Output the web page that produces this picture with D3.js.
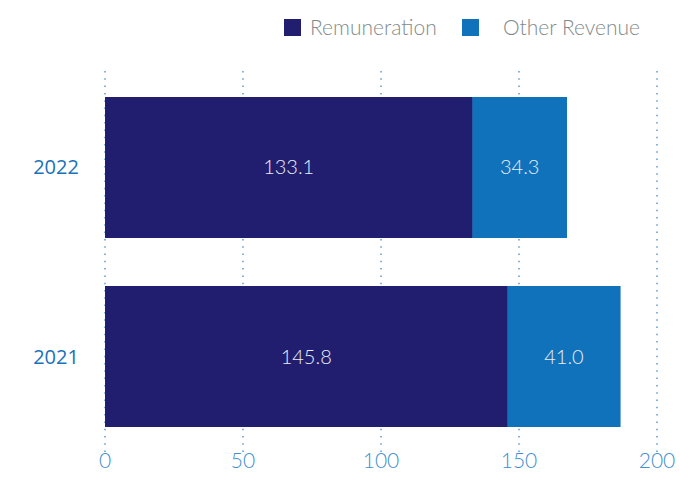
<!DOCTYPE html>
<html><head><meta charset="utf-8">
<script src="https://cdn.jsdelivr.net/npm/d3@7"></script>
<style>body{margin:0;background:#fff}svg{display:block}</style>
</head><body><svg id="c" width="680" height="494"></svg>
<script>
const years = ["2022", "2021"];
const remuneration = [133.1, 145.8];
const otherRevenue = [34.3, 41.0];
const seriesNames = ["Remuneration", "Other Revenue"];
const xTicks = [0, 50, 100, 150, 200];

const colors = ["#221e6f", "#1072bb"];
const svg = d3.select("#c");
const x = d3.scaleLinear().domain([0, 200]).range([105, 657]);
const y = d3.scaleBand().domain(years).range([97, 427]).paddingInner(0.254).paddingOuter(0);

// gridlines
svg.append("g").selectAll("line").data(xTicks).join("line")
  .attr("x1", d => x(d)).attr("x2", d => x(d))
  .attr("y1", 71).attr("y2", 456)
  .attr("stroke", "#3f8ccc").attr("stroke-width", 1.3)
  .attr("stroke-dasharray", "1.5,5.8");

const rows = years.map((yr, i) => ({yr, vals: [remuneration[i], otherRevenue[i]]}));
const stack = [];
rows.forEach(r => { let s = 0; r.vals.forEach((v, k) => { stack.push({yr: r.yr, k, x0: s, x1: s + v, v}); s += v; }); });

svg.append("g").selectAll("rect").data(stack).join("rect")
  .attr("x", d => x(d.x0)).attr("width", d => x(d.x1) - x(d.x0) + (d.k === 0 ? 0.5 : 0))
  .attr("y", d => y(d.yr)).attr("height", y.bandwidth())
  .attr("fill", d => colors[d.k]);

svg.append("g").selectAll("text").data(stack).join("text")
  .attr("x", d => (x(d.x0) + x(d.x1)) / 2)
  .attr("y", d => y(d.yr) + y.bandwidth() / 2)
  .attr("dy", "0.35em").attr("text-anchor", "middle")
  .attr("fill", "#e8eef8").style("font", "300 20px Lato")
  .text(d => d.v.toFixed(1));

// category axis
svg.append("g").selectAll("text").data(years).join("text")
  .attr("x", 56).attr("y", d => y(d) + y.bandwidth() / 2)
  .attr("dy", "0.35em").attr("text-anchor", "middle")
  .attr("fill", "#1a72b9").style("font", "500 20px 'Open Sans'")
  .text(d => d);

// x axis labels
svg.append("g").selectAll("text").data(xTicks).join("text")
  .attr("x", d => x(d)).attr("y", 461).attr("dy", "0.35em")
  .attr("text-anchor", "middle")
  .attr("fill", "#3f8fd0").style("font", "300 21px Lato")
  .text(d => d);

// legend
const leg = [{x: 284, tx: 310}, {x: 462, tx: 503}];
leg.forEach((l, i) => {
  svg.append("rect").attr("x", l.x).attr("y", 19).attr("width", 17).attr("height", 17).attr("fill", colors[i]);
  svg.append("text").attr("x", l.tx).attr("y", 28).attr("dy", "0.35em")
    .attr("fill", "#7f8b8b").style("font", "300 21px Lato").text(seriesNames[i]);
});
</script></body></html>
